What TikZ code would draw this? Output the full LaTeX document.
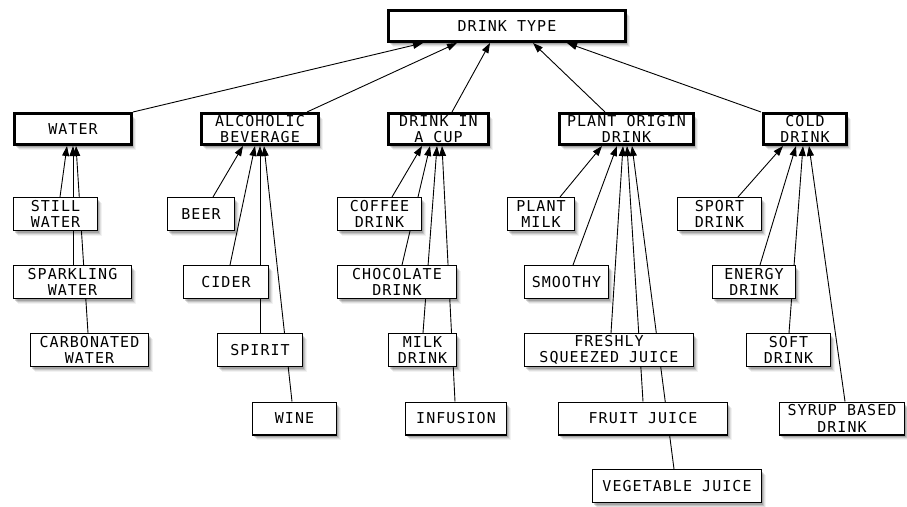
\documentclass[tikz,border=0pt]{standalone}
\usepackage{fontspec}
\newfontfamily\boxfont[LetterSpace=7]{DejaVu Sans Mono}
\usetikzlibrary{arrows.meta,shadows,backgrounds}
\begin{document}
\begin{tikzpicture}[x=1pt,y=-1pt,
  shadowed/.style={
    general shadow={shadow xshift=1.5pt,shadow yshift=-2.5pt,fill=black,opacity=0.16},
    general shadow={shadow xshift=2.5pt,shadow yshift=-3.5pt,fill=black,opacity=0.12},
    general shadow={shadow xshift=3.5pt,shadow yshift=-4.5pt,fill=black,opacity=0.08},
    general shadow={shadow xshift=4.5pt,shadow yshift=-5.5pt,fill=black,opacity=0.05}},
  basebox/.style={draw=black, fill=white, align=center, inner sep=0pt,
    font=\fontsize{15pt}{16.7pt}\boxfont, shadowed},
  mainbox/.style={basebox, line width=3pt, minimum height=31pt},
  subbox/.style={basebox, line width=1.2pt, minimum height=32.8pt},
  arr/.style={line width=0.9pt, -{Triangle[length=10pt,width=7pt]}}
]
\useasboundingbox (0,0) rectangle (907,506);

% top
\node[mainbox, minimum width=237pt] (top) at (507,26) {DRINK TYPE};
% level 1
\node[mainbox, minimum width=117pt] (water) at (73,129) {WATER};
\node[mainbox, minimum width=117pt] (alco) at (260,129) {ALCOHOLIC\\BEVERAGE};
\node[mainbox, minimum width=100pt] (cup) at (438.5,129) {DRINK IN\\A CUP};
\node[mainbox, minimum width=134pt] (plant) at (626.5,129) {PLANT ORIGIN\\DRINK};
\node[mainbox, minimum width=83pt] (cold) at (805,129) {COLD\\DRINK};

% water children
\node[subbox, minimum width=83.8pt] (still) at (55.5,214) {STILL\\WATER};
\node[subbox, minimum width=117.8pt] (sparkling) at (72.5,282) {SPARKLING\\WATER};
\node[subbox, minimum width=117.8pt] (carbonated) at (89.5,350) {CARBONATED\\WATER};
% alcoholic children
\node[subbox, minimum width=66.8pt] (beer) at (201,214) {BEER};
\node[subbox, minimum width=84.8pt] (cider) at (226,282) {CIDER};
\node[subbox, minimum width=84.8pt] (spirit) at (260,350) {SPIRIT};
\node[subbox, minimum width=83.8pt] (wine) at (294.5,418.5) {WINE};
% cup children
\node[subbox, minimum width=83.8pt] (coffee) at (379.5,214) {COFFEE\\DRINK};
\node[subbox, minimum width=118.8pt] (chocolate) at (397,282) {CHOCOLATE\\DRINK};
\node[subbox, minimum width=67.8pt] (milk) at (422.5,350) {MILK\\DRINK};
\node[subbox, minimum width=100.8pt] (infusion) at (456,418.5) {INFUSION};
% plant children
\node[subbox, minimum width=66.8pt] (plantmilk) at (541,214) {PLANT\\MILK};
\node[subbox, minimum width=83.8pt] (smoothy) at (566.5,282) {SMOOTHY};
\node[subbox, minimum width=168.8pt] (freshly) at (609,350) {FRESHLY\\SQUEEZED JUICE};
\node[subbox, minimum width=168.8pt] (fruit) at (643,418.5) {FRUIT JUICE};
\node[subbox, minimum width=168.8pt] (vegetable) at (677,486) {VEGETABLE JUICE};
% cold children
\node[subbox, minimum width=83.8pt] (sport) at (719.5,214) {SPORT\\DRINK};
\node[subbox, minimum width=82.8pt] (energy) at (754,282) {ENERGY\\DRINK};
\node[subbox, minimum width=83.8pt] (soft) at (788.5,350) {SOFT\\DRINK};
\node[subbox, minimum width=124.8pt] (syrup) at (842,418.5) {SYRUP BASED\\DRINK};

\begin{pgfonlayer}{background}
% level 1 to top
\draw[arr] (water.north east) -- ([xshift=-84pt]top.south);
\draw[arr] ([xshift=47pt]alco.north) -- ([xshift=-50pt]top.south);
\draw[arr] ([xshift=13.5pt]cup.north) -- ([xshift=-17pt]top.south);
\draw[arr] ([xshift=-21.5pt]plant.north) -- ([xshift=26pt]top.south);
\draw[arr] ([xshift=-44pt]cold.north) -- ([xshift=60pt]top.south);
% water
\draw[arr] ([xshift=4.5pt]still.north) -- ([xshift=-6pt]water.south);
\draw[arr] ([xshift=0.5pt]sparkling.north) -- ([xshift=0pt]water.south);
\draw[arr] ([xshift=-1.5pt]carbonated.north) -- ([xshift=3pt]water.south);
% alcoholic
\draw[arr] ([xshift=12pt]beer.north) -- ([xshift=-17pt]alco.south);
\draw[arr] ([xshift=4pt]cider.north) -- ([xshift=-5pt]alco.south);
\draw[arr] (spirit.north) -- (alco.south);
\draw[arr] ([xshift=-2.5pt]wine.north) -- ([xshift=4pt]alco.south);
% cup
\draw[arr] ([xshift=12.5pt]coffee.north) -- ([xshift=-16.5pt]cup.south);
\draw[arr] ([xshift=5pt]chocolate.north) -- ([xshift=-8.5pt]cup.south);
\draw[arr] ([xshift=0.5pt]milk.north) -- ([xshift=-1.5pt]cup.south);
\draw[arr] ([xshift=-1pt]infusion.north) -- ([xshift=3.5pt]cup.south);
% plant
\draw[arr] ([xshift=19pt]plantmilk.north) -- ([xshift=-24.5pt]plant.south);
\draw[arr] ([xshift=6.5pt]smoothy.north) -- ([xshift=-9.5pt]plant.south);
\draw[arr] ([xshift=2pt]freshly.north) -- ([xshift=-3.5pt]plant.south);
\draw[arr] (fruit.north) -- ([xshift=0.5pt]plant.south);
\draw[arr] ([xshift=-3pt]vegetable.north) -- ([xshift=5.5pt]plant.south);
% cold
\draw[arr] ([xshift=18.5pt]sport.north) -- ([xshift=-22pt]cold.south);
\draw[arr] ([xshift=6pt]energy.north) -- ([xshift=-9pt]cold.south);
\draw[arr] ([xshift=0.5pt]soft.north) -- ([xshift=-2pt]cold.south);
\draw[arr] ([xshift=3pt]syrup.north) -- ([xshift=4pt]cold.south);
\end{pgfonlayer}
\end{tikzpicture}
\end{document}
